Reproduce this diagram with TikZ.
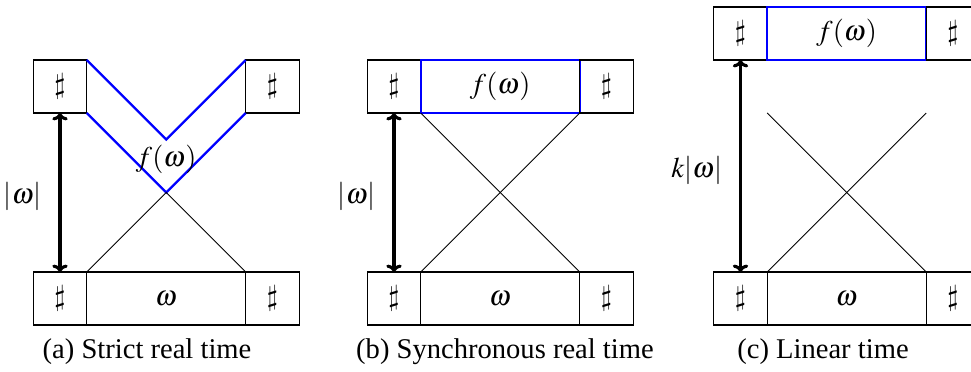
\documentclass[tikz,border=0pt]{standalone}
\usepackage{mathptmx}
\usepackage{fontspec}
\setmainfont{Liberation Serif}
\usetikzlibrary{arrows.meta, positioning, calc}

\begin{document}
\begin{tikzpicture}[
    x=0.35pt, y=0.35pt,
    node distance=0pt,
    cell/.style={rectangle, draw, minimum width=18.7pt, minimum height=18.55pt, inner sep=0pt, outer sep=0pt},
    word/.style={cell, minimum width=55.65pt},
    fword/.style={word, draw=blue, thick},
    fpath/.style={blue, thick},
    cross/.style={line width=0.3pt},
    span/.style={{To[length=2.6pt, width=5.4pt]}-{To[length=2.6pt, width=5.4pt]}, line width=1.1pt},
    lbl/.style={left=2.5pt, yshift=-1.5pt},
    capt/.style={font=\normalsize}
]
\useasboundingbox (0,0) rectangle (971,371);

% ---- (a) Strict real time ----
\node[cell] (tla) at (60,284.5) {$\sharp$};
\node[cell, right=55.65pt of tla] (tra) {$\sharp$};
\node[cell] (bla) at (60,72.5) {$\sharp$};
\node[word, right=of bla] (bma) {$\omega$};
\node[cell, right=of bma] (bra) {$\sharp$};

\coordinate (vtopa) at ($(tla.north east)!.5!(tra.north west)+(0,-27.8pt)$);
\coordinate (vbota) at ($(tla.south east)!.5!(tra.south west)+(0,-27.8pt)$);

\draw[fpath] (tla.north east) -- (vtopa) -- (tra.north west);
\draw[fpath] (tla.south east) -- (vbota) -- (tra.south west);
\draw[cross] (bla.north east) -- (vbota) -- (bra.north west);
\node[above=3pt] (fa) at (vbota) {$f(\omega)$};

\draw[span] (tla.south) -- (bla.north) node[midway, lbl] (la) {$|\omega|$};
\node[capt] (capa) at (147,19) {(a) Strict real time};

% ---- (b) Synchronous real time ----
\node[cell] (tlb) at (394,284.5) {$\sharp$};
\node[fword, right=of tlb] (tmb) {$f(\omega)$};
\node[cell, right=of tmb] (trb) {$\sharp$};
\node[cell] (blb) at (394,72.5) {$\sharp$};
\node[word, right=of blb] (bmb) {$\omega$};
\node[cell, right=of bmb] (brb) {$\sharp$};

\draw[cross] (tmb.south west) -- (bmb.north east);
\draw[cross] (tmb.south east) -- (bmb.north west);

\draw[span] (tlb.south) -- (blb.north) node[midway, lbl] (lb) {$|\omega|$};
\node[capt] (capb) at (505,19) {(b) Synchronous real time};

% ---- (c) Linear time ----
\node[cell] (tlc) at (740.5,337.5) {$\sharp$};
\node[fword, right=of tlc] (tmc) {$f(\omega)$};
\node[cell, right=of tmc] (trc) {$\sharp$};
\node[cell] (blc) at (740.5,72.5) {$\sharp$};
\node[word, right=of blc] (bmc) {$\omega$};
\node[cell, right=of bmc] (brc) {$\sharp$};

\coordinate (xc1) at ($(bmc.north east)+(0,55.65pt)$);
\coordinate (xc2) at ($(bmc.north west)+(0,55.65pt)$);
\draw[cross] (bmc.north west) -- (xc1);
\draw[cross] (bmc.north east) -- (xc2);

\draw[span] (tlc.south) -- (blc.north) node[midway, lbl] (lc) {$k|\omega|$};
\node[capt] (capc) at (823,19) {(c) Linear time};

\end{tikzpicture}
\end{document}
